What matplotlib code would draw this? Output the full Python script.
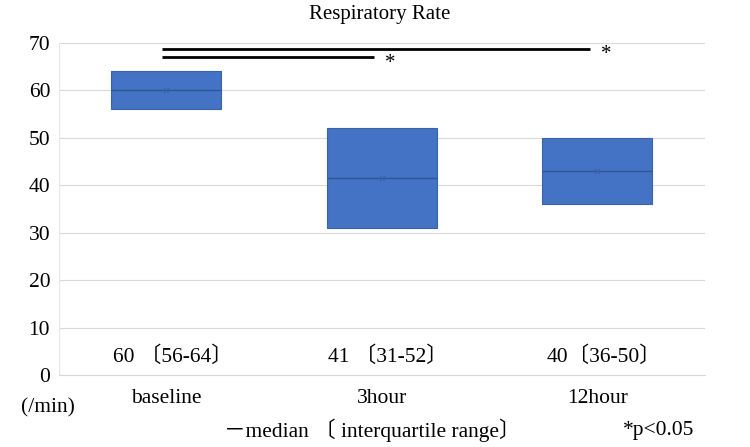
import matplotlib
matplotlib.use('Agg')
import matplotlib.pyplot as plt
import numpy as np

plt.rcParams['font.family'] = ['Liberation Serif', 'Noto Sans CJK JP', 'DejaVu Sans']

# data
groups = ['baseline', '3hour', '12hour']
q1 = [56, 31, 36]
q3 = [64, 52, 50]
medians = [60, 41.5, 43]
labels = ['60 〔56-64〕', '41 〔31-52〕', '40〔36-50〕']
sig_pairs = [(0, 2), (0, 1)]
sig_heights = [68.8, 67.0]

fig = plt.figure(figsize=(7.5, 4.47), dpi=100)
ax = fig.add_axes([0.078, 0.161, 0.862, 0.743])

x = np.arange(len(groups))
heights = np.array(q3) - np.array(q1)
ax.bar(x, heights, bottom=q1, width=0.51, color='#4472C4',
       edgecolor='#3A62A8', linewidth=0.8, zorder=3)
ax.hlines(medians, x - 0.255, x + 0.255, color='#2F5597', linewidth=1, zorder=4)
ax.scatter(x, medians, marker='x', s=14, color='#3A62A8', linewidths=0.7, zorder=5)

for xi, lab in zip(x, labels):
    ax.text(xi + 0.03, 3.8, lab, ha='center', va='center', fontsize=15.5)

# significance bars
for (a, b), h in zip(sig_pairs, sig_heights):
    ax.plot([a - 0.02, b - 0.035], [h, h], color='black', linewidth=2,
            solid_capstyle='butt', zorder=6)
    ax.text(b + 0.04, h - 1.3, '*', ha='center', va='center', fontsize=15)

ax.set_xlim(-0.5, 2.5)
ax.set_ylim(0, 70)
ax.set_yticks(range(0, 71, 10))
ax.set_xticks(x)
ax.set_xticklabels(groups)
ax.tick_params(axis='both', length=0, labelsize=15.5)
ax.tick_params(axis='x', pad=10)
ax.tick_params(axis='y', pad=6)
ax.grid(axis='y', color='#D9D9D9', linewidth=0.8, zorder=0)
for s in ['top', 'right']:
    ax.spines[s].set_visible(False)
ax.spines['bottom'].set_color('#D9D9D9')
ax.spines['left'].set_color('#E6E6E6')
ax.spines['left'].set_linewidth(0.8)

fig.text(380 / 750, 1 - 14 / 447, 'Respiratory Rate', ha='center', va='center', fontsize=15)
fig.text(48 / 750, 1 - 408 / 447, '(/min)', ha='center', va='center', fontsize=15.5)
fig.text(372 / 750, 1 - 430 / 447, '－median 〔 interquartile range〕', ha='center', va='center', fontsize=15.5)
fig.text(659 / 750, 1 - 430 / 447, '*p<0.05', ha='center', va='center', fontsize=15.5)

fig.savefig('out.png', dpi=100)
